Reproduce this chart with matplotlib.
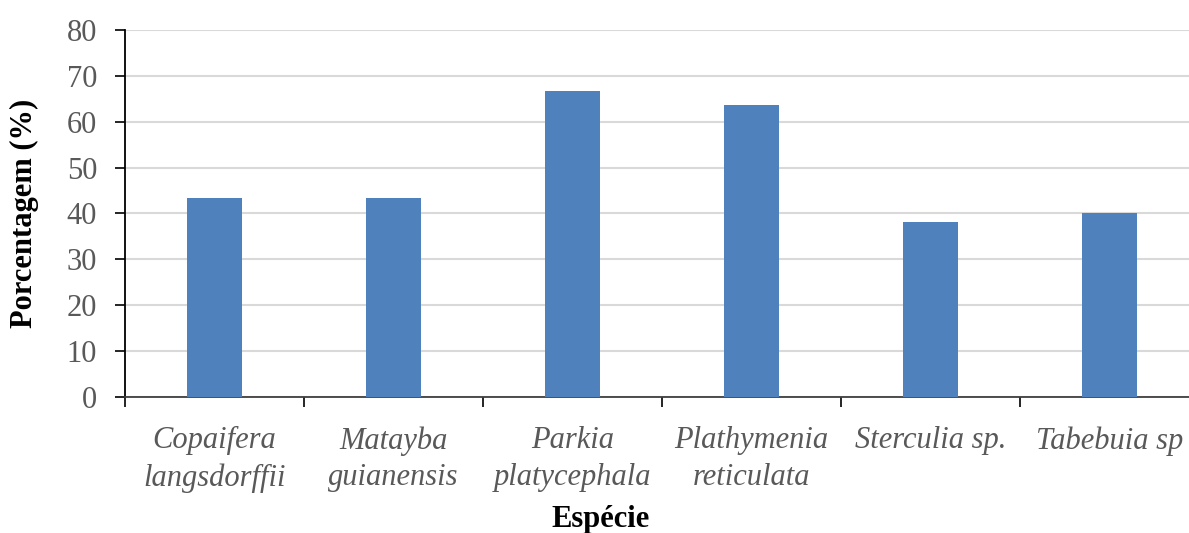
# Porcentagem por espécie - gráfico de barras
import matplotlib.pyplot as plt
import numpy as np

especies = ["Copaifera\nlangsdorffii", "Matayba\nguianensis", "Parkia\nplatycephala",
            "Plathymenia\nreticulata", "Sterculia sp.", "Tabebuia sp"]
porcentagem = [43.3, 43.3, 66.7, 63.6, 38.2, 40.0]
yticks = [0, 10, 20, 30, 40, 50, 60, 70, 80]

plt.rcParams['font.family'] = ['Liberation Serif', 'DejaVu Serif']

fig = plt.figure(figsize=(11.89, 5.33), dpi=100)
ax = fig.add_axes([0.1051, 0.2552, 0.8949, 0.6885])

x = np.arange(len(especies))
ax.bar(x, porcentagem, width=0.31, color="#4F81BD", zorder=3)

ax.set_yticks(yticks)
ax.yaxis.grid(True, color="#D9D9D9", linewidth=1.5, zorder=0)

ax.set_xticks(x)
ax.set_xticklabels(especies, style="italic", color="#595959", fontsize=22, linespacing=1.35)
ax.set_xticks(np.arange(len(especies) + 1) - 0.5, minor=True)
ax.tick_params(axis="x", which="major", length=0, pad=21)
ax.tick_params(axis="x", which="minor", length=7, width=1.2, color="black")
ax.tick_params(axis="y", labelsize=22, labelcolor="#595959", length=7, width=1.2, pad=13)

# limits set after the ticks so they are not widened
ax.set_ylim(0, 80)
ax.set_xlim(-0.5, 5.444)

for s in ["top", "right"]:
    ax.spines[s].set_visible(False)
ax.spines["left"].set_linewidth(1.3)
ax.spines["bottom"].set_linewidth(1.3)
ax.spines["bottom"].set_color("#404040")

ax.set_ylabel("Porcentagem (%)", fontsize=22, fontweight="bold", va="center")
ax.yaxis.set_label_coords(-0.094, 0.5)
fig.text(601 / 1189, 1 - 520 / 533, "Espécie", fontsize=22, fontweight="bold",
         ha="center", va="center")

fig.savefig("out.png", dpi=100)
